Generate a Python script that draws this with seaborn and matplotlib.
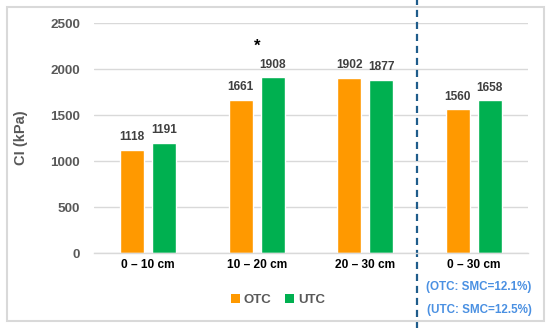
import matplotlib
matplotlib.use("Agg")
import matplotlib.pyplot as plt
import seaborn as sns
import pandas as pd
from matplotlib.patches import Rectangle, Patch
from matplotlib.transforms import blended_transform_factory

depths = ["0 – 10 cm", "10 – 20 cm", "20 – 30 cm", "0 – 30 cm"]
treatments = ["OTC", "UTC"]
otc_values = [1118, 1661, 1902, 1560]
utc_values = [1191, 1908, 1877, 1658]
smc_notes = ["(OTC: SMC=12.1%)", "(UTC: SMC=12.5%)"]
yticks = [0, 500, 1000, 1500, 2000, 2500]

colors = {"OTC": "#FF9900", "UTC": "#00B050"}

df = pd.DataFrame({
    "Depth": depths * 2,
    "Treatment": ["OTC"] * len(depths) + ["UTC"] * len(depths),
    "CI": otc_values + utc_values,
})

sns.set_theme(style="white")
plt.rcParams["font.family"] = ["Liberation Sans", "DejaVu Sans"]

fig = plt.figure(figsize=(5.5, 3.28), dpi=100)
ax = fig.add_axes([94 / 550, 75 / 328, 434 / 550, 230 / 328])

sns.barplot(data=df, x="Depth", y="CI", hue="Treatment", order=depths,
            hue_order=treatments, palette=colors, width=0.59, gap=0.25,
            errorbar=None, ax=ax, legend=False, saturation=1)

for cont in ax.containers:
    ax.bar_label(cont, fmt="%d", padding=5, fontsize=8.6, fontweight="bold",
                 color="#404040")

ax.set_ylim(0, 2500)
ax.set_xlim(-0.5, 3.5)
ax.set_yticks(yticks)
ax.yaxis.grid(True, color="#D9D9D9", linewidth=1)
ax.set_axisbelow(True)
for s in ["top", "right", "left"]:
    ax.spines[s].set_visible(False)
ax.spines["bottom"].set_color("#D9D9D9")
ax.spines["bottom"].set_linewidth(1)

ax.tick_params(axis="y", length=0, pad=10, labelsize=9.7, labelcolor="#595959")
ax.tick_params(axis="x", length=0, pad=4, labelsize=8.6, labelcolor="black")
for t in ax.get_yticklabels():
    t.set_fontweight("bold")
for t in ax.get_xticklabels():
    t.set_fontweight("bold")

ax.set_xlabel("")
ax.set_ylabel("CI (kPa)", fontsize=10.5, fontweight="bold", color="#595959")
ax.yaxis.set_label_coords(-0.152, 0.5)

# significance star
ax.text(1, 2250, "*", ha="center", va="center", fontsize=12, fontweight="bold",
        color="black")

# separator
ax.axvline(2.48, ymin=-0.33, ymax=1.11, clip_on=False, color="#1F5C8B",
           linewidth=1.6, dashes=(3.2, 2.2))

# SMC notes
tr = blended_transform_factory(ax.transData, ax.transAxes)
for note, yy in zip(smc_notes, [-0.148, -0.248]):
    ax.text(3.05, yy, note, transform=tr, ha="center", va="center",
            fontsize=8.4, fontweight="bold", color="#4A90E2")

# legend
handles = [Patch(facecolor=colors[t], edgecolor="none", label=t) for t in treatments]
leg = fig.legend(handles=handles, loc="center", bbox_to_anchor=(0.505, 0.085),
                 ncol=2, frameon=False, handlelength=0.7, handleheight=0.7,
                 handletextpad=0.3, columnspacing=1.0,
                 prop={"size": 9.5, "weight": "bold"})
for t in leg.get_texts():
    t.set_color("#595959")

# outer border
fig.add_artist(Rectangle((7 / 550, 7 / 328), 537 / 550, 314 / 328,
                         transform=fig.transFigure, fill=False,
                         edgecolor="#D9D9D9", linewidth=1.5))

fig.savefig("out.png", dpi=100)
